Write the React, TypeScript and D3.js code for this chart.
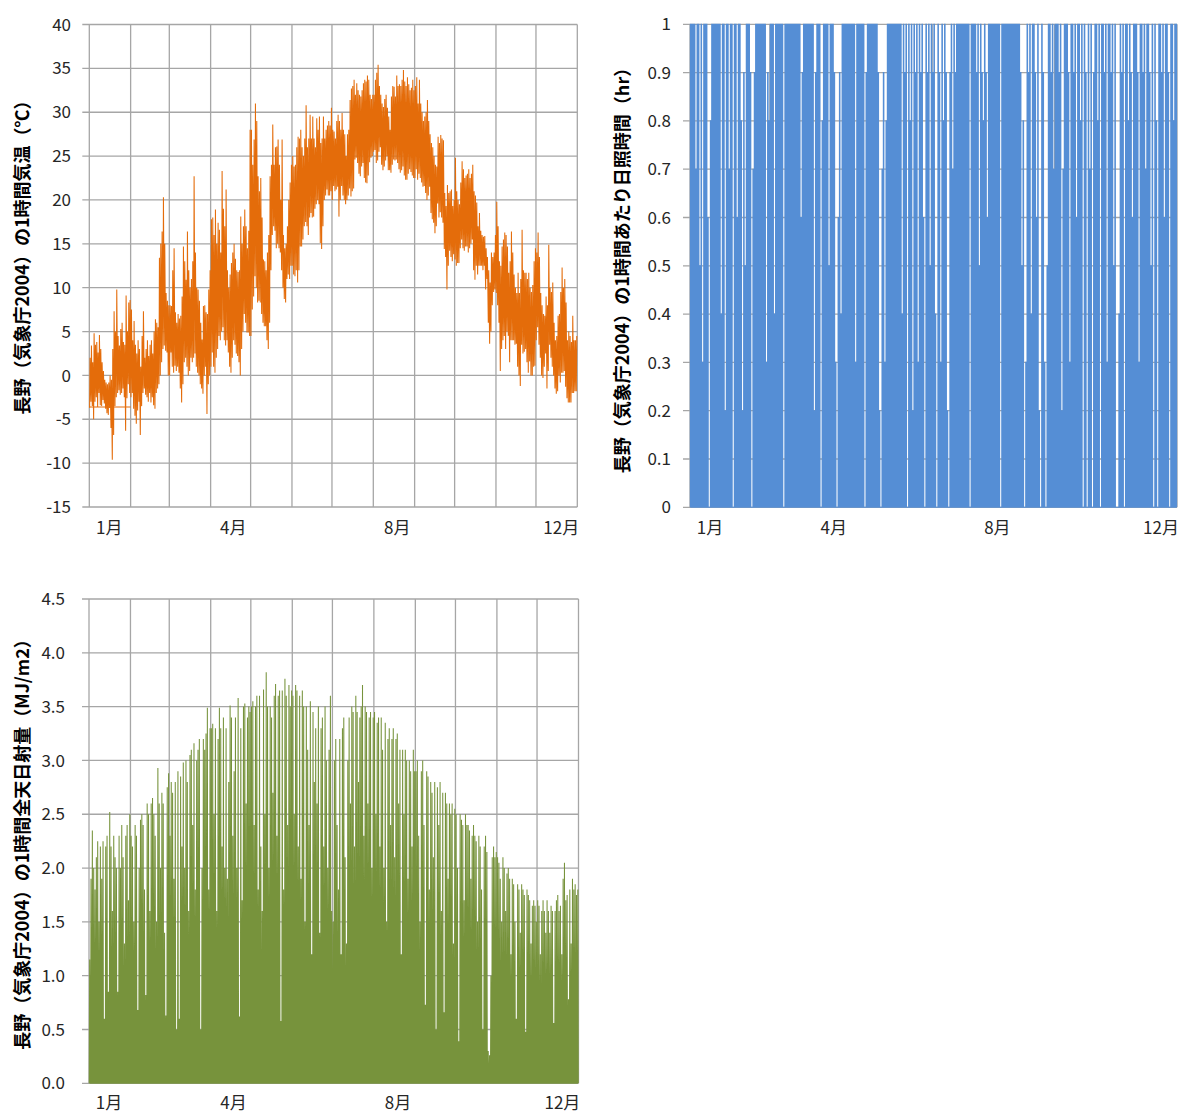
import React from 'react';
import * as d3 from 'd3';

// 2004 daily maximum / minimum of the hourly temperature, one array per month
const tempMax = [
  [2, 3.4, 1.5, 4.8, 3.5, 3.8, 2.6, 4.6, 3, 1.5, 0.5, -0.5, -0.8, -1, -0.8, 0, -0.5, 3, 7.3, 5, 9.8, 4.5, 3.4, 5.3, 6, 3.8, 3.5, 9.1, 5, 8.3, 8.6],
  [7.5, 4, 6.2, 3.5, 2.5, 4, 3, 1, 4.5, 7.3, 2, 3, 4, 2.2, 3.5, 4, 2.5, 5, 6.4, 6, 5.5, 13.4, 15, 16.4, 20.3, 15, 9.4, 8.5, 8],
  [8, 7.9, 12, 14.5, 7.2, 6, 7, 6.5, 6.8, 9, 14.7, 13, 10.9, 16.4, 12, 10, 11, 13, 22.7, 14, 10, 9.8, 8.5, 6, 4.1, 7.9, 8, 7.2, 7, 9.8, 12],
  [17.8, 18, 16, 18.9, 15, 17.4, 16.6, 14, 23.3, 19, 17, 21.2, 12, 10, 11.5, 12.8, 14, 15, 13.3, 12, 11.8, 12, 18.1, 15, 17, 18.9, 17, 14.5, 16.5, 28],
  [28, 24, 26.9, 31, 29, 22.7, 21, 22.5, 18, 13.2, 13, 12, 14, 16, 22.7, 24, 28.6, 24, 26, 26.1, 26.9, 24, 20, 26.9, 16, 14.5, 15, 17, 20, 22, 24],
  [25, 23.8, 24, 26, 27.2, 27, 28, 26, 25, 27, 30.8, 26, 27, 29.7, 27, 29.5, 27, 26, 29.3, 28, 29.5, 26.5, 27, 29.5, 27, 28, 28.5, 29, 28.5, 30.5],
  [28, 27.8, 27, 29, 29.7, 29, 28, 29.9, 28, 27.5, 25, 27.5, 28, 31.4, 32.7, 33, 33.7, 32, 33.3, 32.5, 32, 31.8, 32.5, 33.3, 33.7, 33.5, 34.2, 33.7, 32, 31.5, 32],
  [32, 33.7, 34.5, 35.4, 33, 32, 31, 30.6, 31.5, 32, 30.5, 29.5, 28, 31.8, 33, 32.9, 31.8, 34.2, 33, 33.2, 33, 33.7, 34.8, 33.5, 33, 34, 33.2, 32.5, 32.8, 33.7, 32.5],
  [33, 34, 31, 33.7, 31, 30, 29, 29.5, 30, 31.4, 29, 27.5, 26.5, 26, 25, 24, 23.8, 27.2, 26.5, 27.4, 27, 26.8, 20.8, 19.3, 21.7, 20.8, 21, 21.2, 19.3, 20],
  [24.8, 21, 20, 19.5, 22, 24.4, 23.5, 22.5, 22.8, 23, 23.5, 22.5, 23, 24, 21, 20.5, 19.7, 17, 18.5, 16.5, 16, 15.8, 15.9, 14.5, 13.5, 12, 10.6, 14, 13.5, 14, 16],
  [19.8, 17, 13, 12.5, 14.7, 15.5, 16.3, 16, 14.7, 11.7, 13, 16.4, 14, 11.5, 10, 9.4, 11.7, 9.4, 11, 16.6, 12, 11.7, 11.7, 11, 11.7, 10, 9.5, 10.3, 13, 14.5],
  [14, 16.3, 13.5, 9.4, 8, 7, 6.8, 9, 8, 14.9, 10, 9.5, 10.6, 6, 4, 4.5, 6.8, 7, 9.5, 12.3, 10, 11, 8.3, 4, 5, 4.5, 3.8, 6.8, 4, 4, 4.5],
];
const tempMin = [
  [-3.7, -3, -3.5, -5, -3, -2.5, -3.6, -2, -3.4, -3.5, -2.8, -3.2, -3.8, -4.3, -4.5, -3.7, -6, -9.6, -6.8, -3.5, -2.5, -2, -1.7, -2.2, -2, -1.5, -2.5, -6.3, -2.6, -1, -2],
  [-2.5, -2, -3.8, -4.6, -5.5, -4, -3, -6.8, -3.5, -2, -1.5, -2.2, -2.5, -3, -2, -3.1, -2.5, -3.4, -3.8, -2, -1.5, -1, 0, 1.5, 3, 3.4, 2.8, 2.6, 0],
  [0, 2.6, 1, 0.3, 1.1, 0.5, 1, 0.3, -1.5, -3.1, -1, 1.5, 2, 1, 0, 0.5, 2, 1.5, 2, 2.5, 1, 0.3, 0, -1, -1.5, -2.1, 0, 1, -4.4, -1, 0],
  [1, 2.6, 1, 0.3, 2, 3, 4.5, 4, 5, 5.5, 4, 3.4, 4, 2.6, 1, 0.3, 2, 4, 3.5, 2.5, 2.2, 1.5, 0, 3, 5, 7, 6, 4.9, 4.9, 4.5],
  [4.5, 7.5, 9, 11.3, 10, 8.3, 8.5, 8.3, 7, 6, 5.6, 5.6, 4, 3, 6, 12, 16, 17, 16.5, 14.5, 15, 14.5, 14, 12, 10, 8.7, 8.3, 11, 11.5, 11, 12.5],
  [12.5, 11.5, 11.3, 12, 10.6, 12, 14.7, 14.7, 15.5, 17, 17.5, 17, 16, 18, 18.5, 18, 18.1, 19, 19.5, 20, 19.5, 15.1, 14.4, 17, 20, 20.5, 21.2, 20.5, 20.5, 21],
  [20, 21.6, 21, 21.2, 21.5, 18.1, 20, 21.6, 20.5, 20, 19.5, 20, 20.5, 21.3, 20.4, 21, 21.3, 24.6, 24.8, 24.2, 23, 22.7, 23.8, 24.2, 22.5, 22, 21.9, 22.8, 24.3, 24.8, 25],
  [25.5, 25.7, 24.2, 24.5, 25.5, 26, 24, 23.4, 23.8, 24.5, 25, 23.4, 23.4, 23.1, 24, 24.6, 24.5, 24.6, 24.2, 23.5, 23.1, 23.4, 23.8, 22.8, 22.3, 22.3, 23, 23.5, 23.2, 22.8, 22.5],
  [22.5, 23.5, 22.3, 23, 22.5, 22, 21.5, 21.6, 20.8, 20, 20.5, 21.5, 18.5, 17.8, 17.4, 16.2, 17, 19.6, 18, 18.6, 18, 17.4, 14.4, 13.5, 9.8, 12.5, 14.2, 13.5, 13, 13.8],
  [13.2, 12.5, 12.8, 12.8, 14.5, 15.5, 14.5, 14.2, 14.7, 14.7, 14, 14.5, 15, 15.5, 12, 10.9, 12.5, 11.5, 12.5, 12.5, 12.5, 12, 12.5, 9.8, 11, 6, 3.6, 5, 8, 9.5, 9.8],
  [9.4, 8, 6, 0.5, 3, 4, 4.5, 3, 5, 4.5, 1.5, 4, 4, 4, 3.5, 3.6, 1, 0, -1.2, 3.5, 2.5, 2.7, 3, 1.5, 0.3, 1.6, 0, 0, 1, 1.1],
  [4, 5.5, 3.5, 2, 0, -0.3, 1, 2.5, -1.5, 0.5, 3.5, 2, 1, 0, -1.5, -2.1, -1.8, 0, -0.8, 0.3, 0.3, 0.5, -1.3, -2.6, -3.1, -3.1, -3.1, -2, -2, -1.8, -1.8],
];
// flat segment drawn across January at the left of the temperature chart
const janFlat = { fromDay: 0, toDay: 31, value: -3.6 };

// daily peak of hourly sunshine (hr)
const sunPeak = [
  [1, 1, 1, 1, 0.7, 1, 1, 0.5, 1, 0.3, 1, 1, 1, 0.6, 0, 0.8, 1, 1, 1, 1, 1, 1, 1, 0.4, 1, 1, 0.2, 1, 1, 0.7, 1],
  [1, 0, 1, 1, 0.6, 1, 1, 0.8, 0.2, 0.9, 0.5, 1, 1, 1, 0.9, 0, 0.7, 0.9, 1, 1, 1, 1, 1, 1, 1, 1, 0.3, 0.9, 0.8],
  [1, 1, 1, 0.4, 1, 1, 1, 1, 1, 1, 0, 1, 1, 1, 1, 1, 1, 1, 1, 1, 1, 1, 1, 0.6, 0.9, 1, 1, 1, 1, 1, 1],
  [1, 1, 0.2, 0.9, 1, 1, 1, 0, 0.8, 1, 1, 1, 1, 0.5, 1, 1, 1, 0.9, 0.3, 0, 0.6, 0.9, 0.4, 1, 1, 1, 1, 1, 1, 1],
  [1, 1, 1, 0.3, 1, 1, 1, 1, 1, 1, 0, 0.9, 1, 1, 1, 1, 1, 1, 1, 1, 0.9, 0.2, 0, 0.7, 0.9, 0.3, 0.8, 1, 1, 1, 1],
  [1, 1, 1, 1, 1, 1, 1, 0.4, 1, 0.9, 1, 0, 1, 0.8, 1, 0.2, 1, 0.9, 1, 0.3, 1, 0.9, 1, 0.6, 0, 1, 0.9, 1, 0.5, 1],
  [0.9, 1, 0.4, 0, 1, 0.9, 0.3, 1, 0.8, 1, 0.9, 0.2, 0, 0.9, 1, 0.7, 1, 0.9, 1, 1, 1, 1, 1, 1, 1, 1, 1, 1, 0, 1, 1],
  [1, 1, 0.9, 1, 0.5, 1, 0.9, 0.8, 1, 0.9, 0.6, 1, 1, 1, 1, 1, 1, 1, 1, 1, 0, 1, 1, 1, 1, 1, 1, 1, 1, 1, 1],
  [1, 1, 1, 1, 0.9, 0.5, 0.8, 0, 0.3, 1, 0.9, 1, 0.4, 1, 1, 0.9, 0.6, 1, 0.2, 0, 1, 0.9, 0.3, 0, 0.5, 1, 1, 0.9, 1, 0.7],
  [1, 1, 1, 0.9, 1, 0.2, 0.7, 1, 1, 1, 0.9, 0.3, 1, 1, 0.9, 1, 0.6, 1, 1, 0.8, 1, 0, 1, 0.9, 0, 1, 0.7, 1, 0, 0.9, 1],
  [1, 0.8, 1, 0, 1, 1, 0.9, 1, 0.3, 1, 1, 0.9, 1, 0.5, 1, 0, 0, 0.4, 1, 0.9, 1, 0, 1, 1, 0.8, 1, 0.9, 0.6, 1, 1],
  [1, 0.9, 0.3, 1, 1, 0.9, 1, 0.7, 1, 1, 0.9, 0.5, 1, 0, 1, 0.8, 0, 1, 1, 0.9, 1, 0.6, 1, 1, 0.9, 0, 1, 1, 0.8, 1, 1],
];

// daily peak of hourly global solar radiation (MJ/m2)
const solarPeak = [
  [1.15, 1.9, 2.35, 2.0, 1.8, 2.1, 2.25, 1.5, 2.2, 1.9, 2.25, 0.6, 2.2, 2.3, 0.85, 2.52, 2.2, 1.6, 2.3, 2.1, 2.0, 0.85, 2.3, 2.0, 2.4, 2.1, 1.3, 2.3, 2.4, 1.7, 2.5],
  [2.3, 2.2, 1.5, 2.4, 2.3, 0.68, 2.0, 2.45, 2.5, 2.4, 1.8, 0.82, 2.6, 2.5, 1.6, 2.6, 2.65, 2.5, 2.3, 1.5, 2.93, 2.6, 2.0, 2.7, 2.6, 1.4, 0.63, 2.75, 2.88],
  [2.3, 2.8, 2.7, 1.9, 2.8, 0.5, 2.9, 0.6, 2.85, 2.2, 2.98, 2.0, 3.0, 2.8, 1.6, 3.05, 3.1, 2.4, 3.16, 1.8, 3.0, 3.1, 3.2, 0.5, 2.0, 3.2, 3.1, 3.25, 3.49, 1.8, 3.3],
  [3.3, 3.34, 2.5, 3.3, 1.6, 3.2, 3.49, 3.3, 2.2, 3.4, 2.0, 3.3, 1.9, 2.8, 3.51, 3.4, 2.3, 2.9, 3.4, 2.0, 3.58, 0.62, 3.3, 1.7, 3.5, 3.53, 2.6, 3.4, 3.5, 3.45],
  [3.5, 3.55, 2.4, 3.5, 3.6, 1.8, 3.6, 2.2, 1.6, 3.66, 2.5, 3.82, 3.5, 2.0, 3.5, 3.4, 2.7, 3.6, 3.71, 2.3, 3.6, 3.65, 0.58, 3.65, 1.8, 3.76, 3.6, 2.4, 3.7, 3.5, 3.65],
  [3.6, 2.5, 3.7, 3.65, 2.2, 3.6, 1.9, 3.65, 3.5, 1.5, 3.5, 3.1, 2.4, 3.55, 1.2, 3.45, 2.8, 3.3, 2.6, 3.5, 1.4, 3.3, 3.4, 2.2, 3.5, 3.0, 2.0, 3.1, 3.6, 1.6],
  [1.5, 3.0, 3.2, 2.4, 1.8, 3.2, 1.2, 3.3, 3.4, 2.1, 1.3, 3.0, 3.4, 2.6, 3.5, 3.45, 2.2, 3.6, 3.45, 2.8, 3.4, 3.5, 3.7, 2.3, 3.5, 3.45, 2.6, 3.4, 3.45, 2.0, 3.4],
  [3.45, 2.5, 3.35, 3.4, 2.2, 3.4, 3.1, 2.0, 3.35, 1.5, 3.2, 3.3, 2.4, 3.2, 3.3, 2.1, 3.2, 3.25, 2.6, 3.1, 1.2, 3.1, 2.5, 3.1, 3.0, 1.9, 3.0, 2.9, 2.2, 3.1, 2.9],
  [2.9, 3.0, 2.3, 1.5, 2.9, 3.0, 2.4, 0.73, 2.9, 2.85, 1.8, 2.8, 2.7, 2.1, 2.8, 0.5, 2.75, 2.4, 2.8, 1.6, 2.7, 0.66, 2.7, 2.6, 1.9, 2.6, 2.5, 2.6, 1.3, 2.55],
  [2.5, 2.0, 0.39, 2.5, 2.45, 2.4, 1.7, 2.5, 2.4, 2.4, 2.35, 1.9, 2.3, 2.4, 2.3, 2.25, 1.5, 2.3, 2.2, 1.8, 0.5, 2.2, 2.3, 2.15, 0.3, 0.26, 1.0, 2.1, 2.2, 2.1, 2.15],
  [2.1, 2.05, 1.9, 1.5, 2.1, 2.0, 1.6, 1.95, 2.0, 1.9, 1.2, 1.9, 1.85, 1.5, 0.6, 1.85, 1.8, 1.4, 1.85, 1.8, 1.75, 0.48, 1.8, 1.75, 1.7, 1.3, 1.65, 1.7, 1.65, 1.5],
  [1.7, 1.65, 1.2, 1.6, 1.7, 1.6, 1.4, 1.7, 1.6, 1.4, 1.65, 1.6, 0.56, 1.6, 1.7, 1.75, 1.6, 1.65, 1.2, 1.9, 2.05, 1.7, 1.75, 0.78, 1.8, 1.3, 1.9, 1.8, 1.85, 1.75, 1.8],
];

const monthLabels = ['1月', '4月', '8月', '12月'];
const monthLabelDays = [15, 108, 231, 354];

const DAY = 864e5;
const T0 = Date.UTC(2004, 0, 1);
const T1 = Date.UTC(2005, 0, 1);
const at = (day: number) => new Date(T0 + day * DAY);

const FONT = "'Noto Sans CJK JP', 'Noto Sans', sans-serif";
const GRID = '#a6a6a6';

type PanelProps = {
  x0: number; x1: number; y0: number; y1: number;
  domain: [number, number]; step: number; fmt: (v: number) => string;
  labelEnd: number; labelBase: number;
  title: string; titleX: number; titleY: number;
  children: (x: d3.ScaleTime<number, number>, y: d3.ScaleLinear<number, number>) => React.ReactNode;
};

function Panel(p: PanelProps) {
  const x = d3.scaleUtc().domain([new Date(T0), new Date(T1)]).range([p.x0, p.x1]);
  const y = d3.scaleLinear().domain(p.domain).range([p.y1, p.y0]);
  const n = Math.round((p.domain[1] - p.domain[0]) / p.step);
  const ticks = d3.range(n + 1).map(i => p.domain[0] + i * p.step);
  const months = d3.utcMonth.range(new Date(T0), new Date(T1 + 1));

  return (
    <g>
      {ticks.map(t => (
        <g key={t}>
          <line x1={p.x0 - 7} x2={p.x1} y1={y(t)} y2={y(t)} stroke={GRID} strokeWidth={1.3} />
          <text x={p.labelEnd} y={y(t)} dy="0.36em" textAnchor="end" fontSize={17} fill="#262626">{p.fmt(t)}</text>
        </g>
      ))}
      {months.map(m => (
        <line key={+m} x1={x(m)} x2={x(m)} y1={p.y0} y2={p.y1} stroke={GRID} strokeWidth={1.3} />
      ))}
      {p.children(x, y)}
      {monthLabels.map((l, i) => (
        <text key={l} x={x(at(monthLabelDays[i]))} y={p.labelBase} textAnchor="middle" fontSize={17} fill="#262626">{l}</text>
      ))}
      <text transform={`translate(${p.titleX},${p.titleY}) rotate(-90)`} textAnchor="middle" dy="0.35em"
        fontSize={18} fontWeight="bold" fill="#000">{p.title}</text>
    </g>
  );
}

export default function App() {
  const tMax = tempMax.flat();
  const tMin = tempMin.flat();
  const sun = sunPeak.flat();
  const solar = solarPeak.flat();

  // each day: morning minimum, afternoon maximum
  const tempPts: [number, number][] = [];
  tMax.forEach((hi, d) => {
    tempPts.push([d + 0.25, tMin[d]]);
    tempPts.push([d + 0.6, hi]);
  });
  // each day: rises from 0 at sunrise, holds its peak, back to 0 at sunset
  const sunPts: [number, number][] = [];
  sun.forEach((v, d) => {
    sunPts.push([d + 0.3, 0], [d + 0.32, v], [d + 0.68, v], [d + 0.7, 0]);
  });
  // each day: a noon peak
  const solarPts: [number, number][] = [];
  solar.forEach((v, d) => {
    solarPts.push([d + 0.18, 0], [d + 0.5, v], [d + 0.82, 0]);
  });

  const lineOf = (x: d3.ScaleTime<number, number>, y: d3.ScaleLinear<number, number>, pts: [number, number][]) =>
    d3.line<[number, number]>().x(p => x(at(p[0]))).y(p => y(p[1]))(pts) || '';

  return (
    <svg width={1186} height={1113} style={{ position: 'absolute', left: 0, top: 0, fontFamily: FONT }}>
      <rect width={1186} height={1113} fill="#fff" />
      <Panel x0={89.3} x1={577.3} y0={24.5} y1={507} domain={[-15, 40]} step={5} fmt={v => String(v)}
        labelEnd={71} labelBase={534} title="長野（気象庁2004）の1時間気温（℃）" titleX={22.5} titleY={253}>
        {(x, y) => (
          <g>
            <path d={lineOf(x, y, tempPts)} fill="none" stroke="#e46c0a" strokeWidth={1.05} />
            <line x1={x(at(janFlat.fromDay))} x2={x(at(janFlat.toDay))} y1={y(janFlat.value)} y2={y(janFlat.value)}
              stroke="#e46c0a" strokeWidth={1.2} />
          </g>
        )}
      </Panel>
      <Panel x0={690} x1={1177} y0={24.3} y1={507.3} domain={[0, 1]} step={0.1} fmt={v => (v === 0 || v === 1 ? String(v) : v.toFixed(1))}
        labelEnd={671} labelBase={534} title="長野（気象庁2004）の1時間あたり日照時間（hr）" titleX={623} titleY={266}>
        {(x, y) => <path d={lineOf(x, y, sunPts)} fill="none" stroke="#558ed5" strokeWidth={1.1} />}
      </Panel>
      <Panel x0={89} x1={578.5} y0={599} y1={1083.3} domain={[0, 4.5]} step={0.5} fmt={v => v.toFixed(1)}
        labelEnd={65} labelBase={1109} title="長野（気象庁2004）の1時間全天日射量（MJ/m2）" titleX={22.8} titleY={840}>
        {(x, y) => <path d={lineOf(x, y, solarPts)} fill="none" stroke="#77933c" strokeWidth={1.05} />}
      </Panel>
    </svg>
  );
}
